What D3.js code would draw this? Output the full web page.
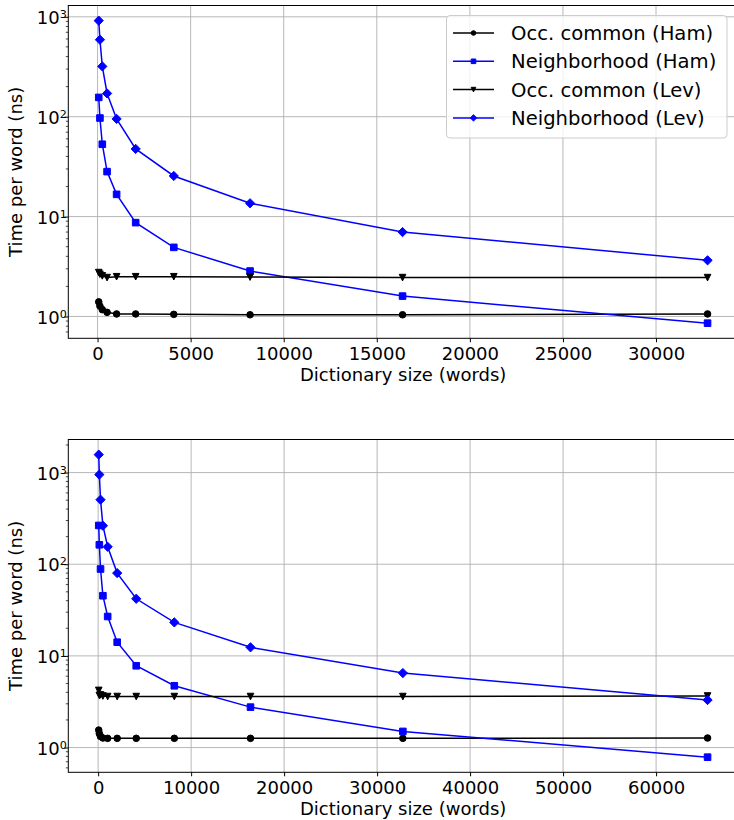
<!DOCTYPE html>
<html>
<head>
<meta charset="utf-8">
<script src="https://d3js.org/d3.v7.min.js"></script>
<style>
  body { margin: 0; background: #fff; }
  svg { font-family: "DejaVu Sans", sans-serif; display: block; }
</style>
</head>
<body>
<svg id="chart"></svg>
<script>

// dictionary sizes (words)
var sizesTop = [64, 128, 256, 512, 1024, 2048, 4096, 8192, 16384, 32768];
var sizesBottom = [64, 128, 256, 512, 1024, 2048, 4096, 8192, 16384, 32768, 65536];

// time per word (ns), top panel
var occHamTop = [1.40, 1.27, 1.17, 1.10, 1.06, 1.06, 1.05, 1.04, 1.04, 1.06];
var nbrHamTop = [156, 97, 53, 28.2, 16.7, 8.7, 4.92, 2.85, 1.6, 0.857];
var occLevTop = [2.75, 2.65, 2.55, 2.45, 2.5, 2.5, 2.5, 2.48, 2.45, 2.45];
var nbrLevTop = [916, 590, 319, 171, 95, 47.6, 25.5, 13.6, 7.0, 3.65];

// time per word (ns), bottom panel
var occHamBottom = [1.55, 1.42, 1.32, 1.27, 1.26, 1.26, 1.26, 1.26, 1.26, 1.26, 1.27];
var nbrHamBottom = [265, 163, 88.7, 45.3, 26.9, 14.1, 7.8, 4.72, 2.76, 1.5, 0.785];
var occLevBottom = [4.2, 3.7, 3.75, 3.65, 3.6, 3.6, 3.6, 3.6, 3.6, 3.6, 3.65];
var nbrLevBottom = [1570, 950, 506, 263, 155, 80, 42, 23.2, 12.4, 6.5, 3.3];

var seriesNames = ["Occ. common (Ham)", "Neighborhood (Ham)", "Occ. common (Lev)", "Neighborhood (Lev)"];
var xTicksTop = [0, 5000, 10000, 15000, 20000, 25000, 30000];
var xTicksBottom = [0, 10000, 20000, 30000, 40000, 50000, 60000];
var yTicks = [1, 10, 100, 1000];

var styles = [
  {color: "#000000", marker: "circle"},
  {color: "#0000ff", marker: "square"},
  {color: "#000000", marker: "tri"},
  {color: "#0000ff", marker: "diamond"}
];

var screen = {width: 734, height: 820};
var svg = d3.select("#chart")
  .attr("width", screen.width)
  .attr("height", screen.height);

// marker shapes, size = half extent
var markerPath = function(type, s) {
  var p = d3.path();
  if (type == "circle") {
    p.arc(0, 0, s, 0, 2 * Math.PI);
  } else if (type == "square") {
    p.rect(-s, -s, 2 * s, 2 * s);
  } else if (type == "tri") {
    p.moveTo(-s, -s); p.lineTo(s, -s); p.lineTo(0, s); p.closePath();
  } else {
    p.moveTo(0, -s * 1.4); p.lineTo(s * 1.4, 0); p.lineTo(0, s * 1.4); p.lineTo(-s * 1.4, 0); p.closePath();
  }
  return p.toString();
};

var drawPanel = function(box, sizes, values, xTicks, showLegend) {
  var g = svg.append("g");

  var xExt = d3.extent(sizes);
  var xPad = (xExt[1] - xExt[0]) * 0.05;
  var xScale = d3.scaleLinear()
    .domain([xExt[0] - xPad, xExt[1] + xPad])
    .range([box.left, box.right]);

  var all = d3.merge(values);
  var lo = Math.log10(d3.min(all)), hi = Math.log10(d3.max(all));
  var yPad = (hi - lo) * 0.05;
  var yScale = d3.scaleLog()
    .domain([Math.pow(10, lo - yPad), Math.pow(10, hi + yPad)])
    .range([box.bottom, box.top]);

  // grid
  g.append("g").selectAll("line")
    .data(xTicks).enter().append("line")
    .attr("x1", function(d) { return xScale(d); })
    .attr("x2", function(d) { return xScale(d); })
    .attr("y1", box.top).attr("y2", box.bottom)
    .attr("stroke", "#b0b0b0").attr("stroke-width", 0.9);
  g.append("g").selectAll("line")
    .data(yTicks).enter().append("line")
    .attr("y1", function(d) { return yScale(d); })
    .attr("y2", function(d) { return yScale(d); })
    .attr("x1", box.left).attr("x2", box.right)
    .attr("stroke", "#b0b0b0").attr("stroke-width", 0.9);

  // x axis
  var xAxis = d3.axisBottom(xScale)
    .tickValues(xTicks)
    .tickFormat(d3.format("d"))
    .tickSize(4)
    .tickPadding(4.5)
    .tickSizeOuter(0);
  var xa = g.append("g")
    .attr("transform", "translate(0," + box.bottom + ")")
    .call(xAxis);
  xa.select(".domain").remove();
  xa.attr("font-size", 18).attr("font-family", null);

  // y axis, major
  var yAxis = d3.axisLeft(yScale)
    .tickValues(yTicks)
    .tickSize(4)
    .tickSizeOuter(0);
  var ya = g.append("g")
    .attr("transform", "translate(" + box.left + ",0)")
    .call(yAxis);
  ya.select(".domain").remove();
  ya.attr("font-size", 18).attr("font-family", null);
  ya.selectAll(".tick text")
    .attr("x", -1.5)
    .attr("dy", "0.37em")
    .text(null)
    .each(function(d) {
      var t = d3.select(this);
      t.append("tspan").text("10");
      t.append("tspan").attr("font-size", "0.62em").attr("dy", "-0.55em")
        .text(Math.round(Math.log10(d)));
    });

  // y minor ticks
  var minor = yScale.ticks().filter(function(v) {
    return Math.abs(Math.log10(v) - Math.round(Math.log10(v))) > 1e-6;
  });
  g.append("g").selectAll("line")
    .data(minor).enter().append("line")
    .attr("x1", box.left - 2.5).attr("x2", box.left)
    .attr("y1", function(d) { return yScale(d); })
    .attr("y2", function(d) { return yScale(d); })
    .attr("stroke", "#000").attr("stroke-width", 0.7);

  // series
  var line = d3.line()
    .x(function(d) { return xScale(d[0]); })
    .y(function(d) { return yScale(d[1]); });

  values.forEach(function(vals, i) {
    var pts = d3.zip(sizes, vals);
    var sg = g.append("g");
    sg.append("path")
      .datum(pts)
      .attr("d", line)
      .attr("fill", "none")
      .attr("stroke", styles[i].color)
      .attr("stroke-width", 1.5);
    sg.selectAll("path.m")
      .data(pts).enter().append("path")
      .classed("m", true)
      .attr("d", markerPath(styles[i].marker, 3.3))
      .attr("transform", function(d) { return "translate(" + xScale(d[0]) + "," + yScale(d[1]) + ")"; })
      .attr("fill", styles[i].color)
      .attr("stroke", styles[i].color)
      .attr("stroke-width", 1);
  });

  // spines
  g.append("rect")
    .attr("x", box.left).attr("y", box.top)
    .attr("width", box.right - box.left)
    .attr("height", box.bottom - box.top)
    .attr("fill", "none").attr("stroke", "#000").attr("stroke-width", 1);

  // labels
  g.append("text")
    .text("Dictionary size (words)")
    .attr("text-anchor", "middle")
    .attr("font-size", 18)
    .attr("x", (box.left + box.right) / 2)
    .attr("y", box.bottom + 43);
  g.append("text")
    .text("Time per word (ns)")
    .attr("text-anchor", "middle")
    .attr("font-size", 18)
    .attr("transform", "translate(21.5," + ((box.top + box.bottom) / 2) + ") rotate(-90)");

  if (showLegend) {
    var lg = g.append("g").attr("transform", "translate(446.5,15.5)");
    lg.append("rect")
      .attr("width", 280.5).attr("height", 122.5).attr("rx", 3.5)
      .attr("fill", "#fff").attr("fill-opacity", 0.8)
      .attr("stroke", "#cccccc").attr("stroke-width", 1);
    var rows = lg.selectAll("g.row")
      .data(seriesNames).enter().append("g")
      .classed("row", true)
      .attr("transform", function(d, i) { return "translate(0," + (17.5 + i * 28.3) + ")"; });
    rows.append("line")
      .attr("x1", 6.5).attr("x2", 47.5)
      .attr("stroke", function(d, i) { return styles[i].color; })
      .attr("stroke-width", 1.5);
    rows.append("path")
      .attr("d", function(d, i) { return markerPath(styles[i].marker, 2.3); })
      .attr("transform", "translate(27,0)")
      .attr("fill", function(d, i) { return styles[i].color; })
      .attr("stroke", function(d, i) { return styles[i].color; })
      .attr("stroke-width", 1);
    rows.append("text")
      .text(function(d) { return d; })
      .attr("x", 64.5)
      .attr("dy", "0.36em")
      .attr("font-size", 19.6);
  }
};

drawPanel({left: 68.3, right: 738, top: 5.5, bottom: 338.3},
  sizesTop, [occHamTop, nbrHamTop, occLevTop, nbrLevTop], xTicksTop, true);
drawPanel({left: 68.3, right: 738, top: 439.5, bottom: 772.3},
  sizesBottom, [occHamBottom, nbrHamBottom, occLevBottom, nbrLevBottom], xTicksBottom, false);

</script>
</body>
</html>
